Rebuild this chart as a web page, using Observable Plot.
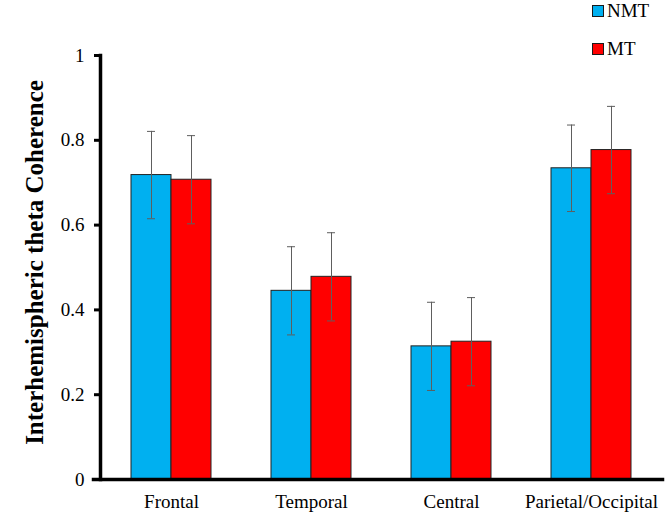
<!DOCTYPE html>
<html>
<head>
<meta charset="utf-8">
<script src="https://cdn.jsdelivr.net/npm/d3@7"></script>
<script src="https://cdn.jsdelivr.net/npm/@observablehq/plot@0.6"></script>
<style>
  html, body { margin: 0; padding: 0; background: #fff; }
  #wrap { position: relative; width: 666px; height: 516px; font-family: "Liberation Serif", "Times New Roman", serif; }
  .leg { position: absolute; display: flex; align-items: center; font-size: 19px; color: #000; }
  .sw { width: 10px; height: 10px; border: 1px solid #1a1a1a; margin-right: 3px; }
</style>
</head>
<body>
<div id="wrap"></div>
<script>
const regions = ["Frontal", "Temporal", "Central", "Parietal/Occipital"];
const groups = ["NMT", "MT"];
const nmtValues = [0.718, 0.445, 0.314, 0.734];
const mtValues = [0.707, 0.478, 0.325, 0.777];
const nmtErrors = [0.103, 0.104, 0.104, 0.102];
const mtErrors = [0.104, 0.104, 0.104, 0.103];
const colors = ["#00B0F0", "#FF0000"];
const yTicks = [0, 0.2, 0.4, 0.6, 0.8, 1];
const yLabel = "Interhemispheric theta Coherence";

const nmt = regions.map((r, i) => ({region: r, value: nmtValues[i], err: nmtErrors[i]}));
const mt = regions.map((r, i) => ({region: r, value: mtValues[i], err: mtErrors[i]}));

const half = 40; // half of band width in px
const errColor = "#5e5e5e";

const chart = Plot.plot({
  width: 666,
  height: 516,
  marginLeft: 100,
  marginRight: 4,
  marginTop: 55,
  marginBottom: 37,
  style: {fontFamily: "'Liberation Serif', 'Times New Roman', serif", color: "#000", background: "#fff"},
  x: {domain: regions, paddingInner: 0.43, paddingOuter: 0.215, label: null},
  y: {domain: [0, 1], ticks: yTicks, label: null},
  marks: [
    Plot.barY(nmt, {x: "region", y: "value", fill: colors[0], stroke: "#222", strokeWidth: 1, insetRight: half}),
    Plot.barY(mt, {x: "region", y: "value", fill: colors[1], stroke: "#222", strokeWidth: 1, insetLeft: half}),
    Plot.ruleX(nmt, {x: "region", y1: d => d.value - d.err, y2: d => d.value + d.err, dx: -half / 2, stroke: errColor, strokeWidth: 1}),
    Plot.ruleX(mt, {x: "region", y1: d => d.value - d.err, y2: d => d.value + d.err, dx: half / 2, stroke: errColor, strokeWidth: 1}),
    Plot.tickY(nmt, {x: "region", y: d => d.value + d.err, insetLeft: 16, insetRight: 56, stroke: errColor}),
    Plot.tickY(nmt, {x: "region", y: d => d.value - d.err, insetLeft: 16, insetRight: 56, stroke: errColor}),
    Plot.tickY(mt, {x: "region", y: d => d.value + d.err, insetLeft: 56, insetRight: 16, stroke: errColor}),
    Plot.tickY(mt, {x: "region", y: d => d.value - d.err, insetLeft: 56, insetRight: 16, stroke: errColor}),
    Plot.axisY({ticks: yTicks, tickSize: 6, tickPadding: 10, tickFormat: d => String(d), fontSize: 19, strokeWidth: 3, label: null}),
    Plot.axisX({tickSize: 0, tickPadding: 15, fontSize: 19, label: null}),
    Plot.frame({anchor: "left", stroke: "#000", strokeWidth: 3.5}),
    Plot.frame({anchor: "bottom", stroke: "#000", strokeWidth: 3.5, insetLeft: -7}),
    Plot.text([yLabel], {frameAnchor: "left", textAnchor: "middle", rotate: -90, dx: -66, dy: -5, fontSize: 25, fontWeight: "bold", text: d => d})
  ]
});

const wrap = document.getElementById("wrap");
wrap.appendChild(chart);

const legendPos = [{top: 0}, {top: 38}];
groups.forEach((g, i) => {
  const item = document.createElement("div");
  item.className = "leg";
  item.style.left = "592px";
  item.style.top = legendPos[i].top + "px";
  const sw = document.createElement("div");
  sw.className = "sw";
  sw.style.background = colors[i];
  const tx = document.createElement("span");
  tx.textContent = g;
  item.appendChild(sw);
  item.appendChild(tx);
  wrap.appendChild(item);
});
</script>
</body>
</html>
